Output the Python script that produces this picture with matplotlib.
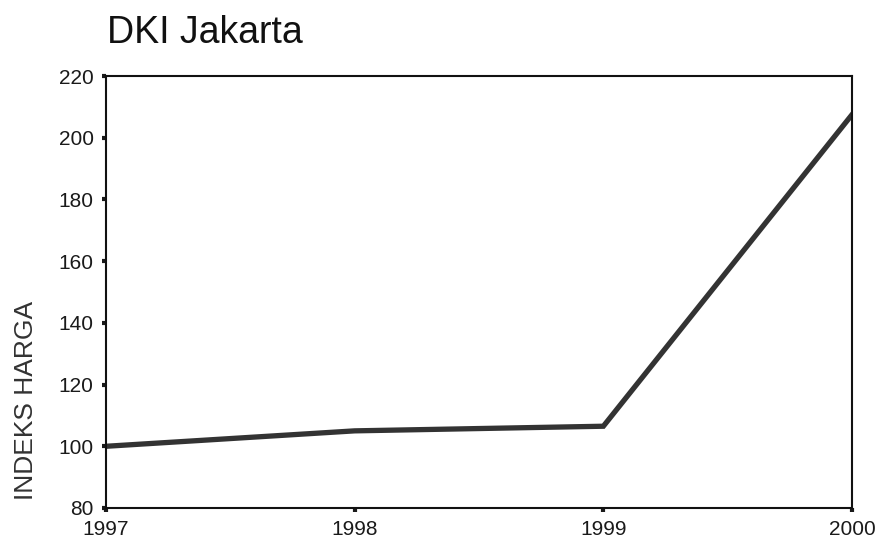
import matplotlib.pyplot as plt

years = [1997, 1998, 1999, 2000]
indeks = [100, 105, 106.5, 207.5]
yticks = [80, 100, 120, 140, 160, 180, 200, 220]

plt.rcParams['font.family'] = ['Liberation Sans', 'DejaVu Sans']

fig = plt.figure(figsize=(8.79, 5.44), dpi=100)
ax = fig.add_axes([0.1206, 0.0662, 0.8487, 0.794])

ax.plot(years, indeks, color='#333333', linewidth=3.8, solid_joinstyle='miter')

ax.set_xlim(1997, 2000)
ax.set_ylim(80, 220)
ax.set_xticks(years)
ax.set_yticks(yticks)
ax.tick_params(axis='both', direction='out', length=3, width=3, labelsize=15,
               colors='#1a1a1a', pad=6)
for s in ax.spines.values():
    s.set_linewidth(1.5)
    s.set_color('#111111')

ax.set_ylabel('INDEKS HARGA', fontsize=19, color='#333333')
ax.yaxis.set_label_coords(-0.091, 0.248)

fig.text(0.122, 0.921, 'DKI Jakarta', fontsize=27, color='#111111', va='baseline')

fig.savefig('out.png', dpi=100)
